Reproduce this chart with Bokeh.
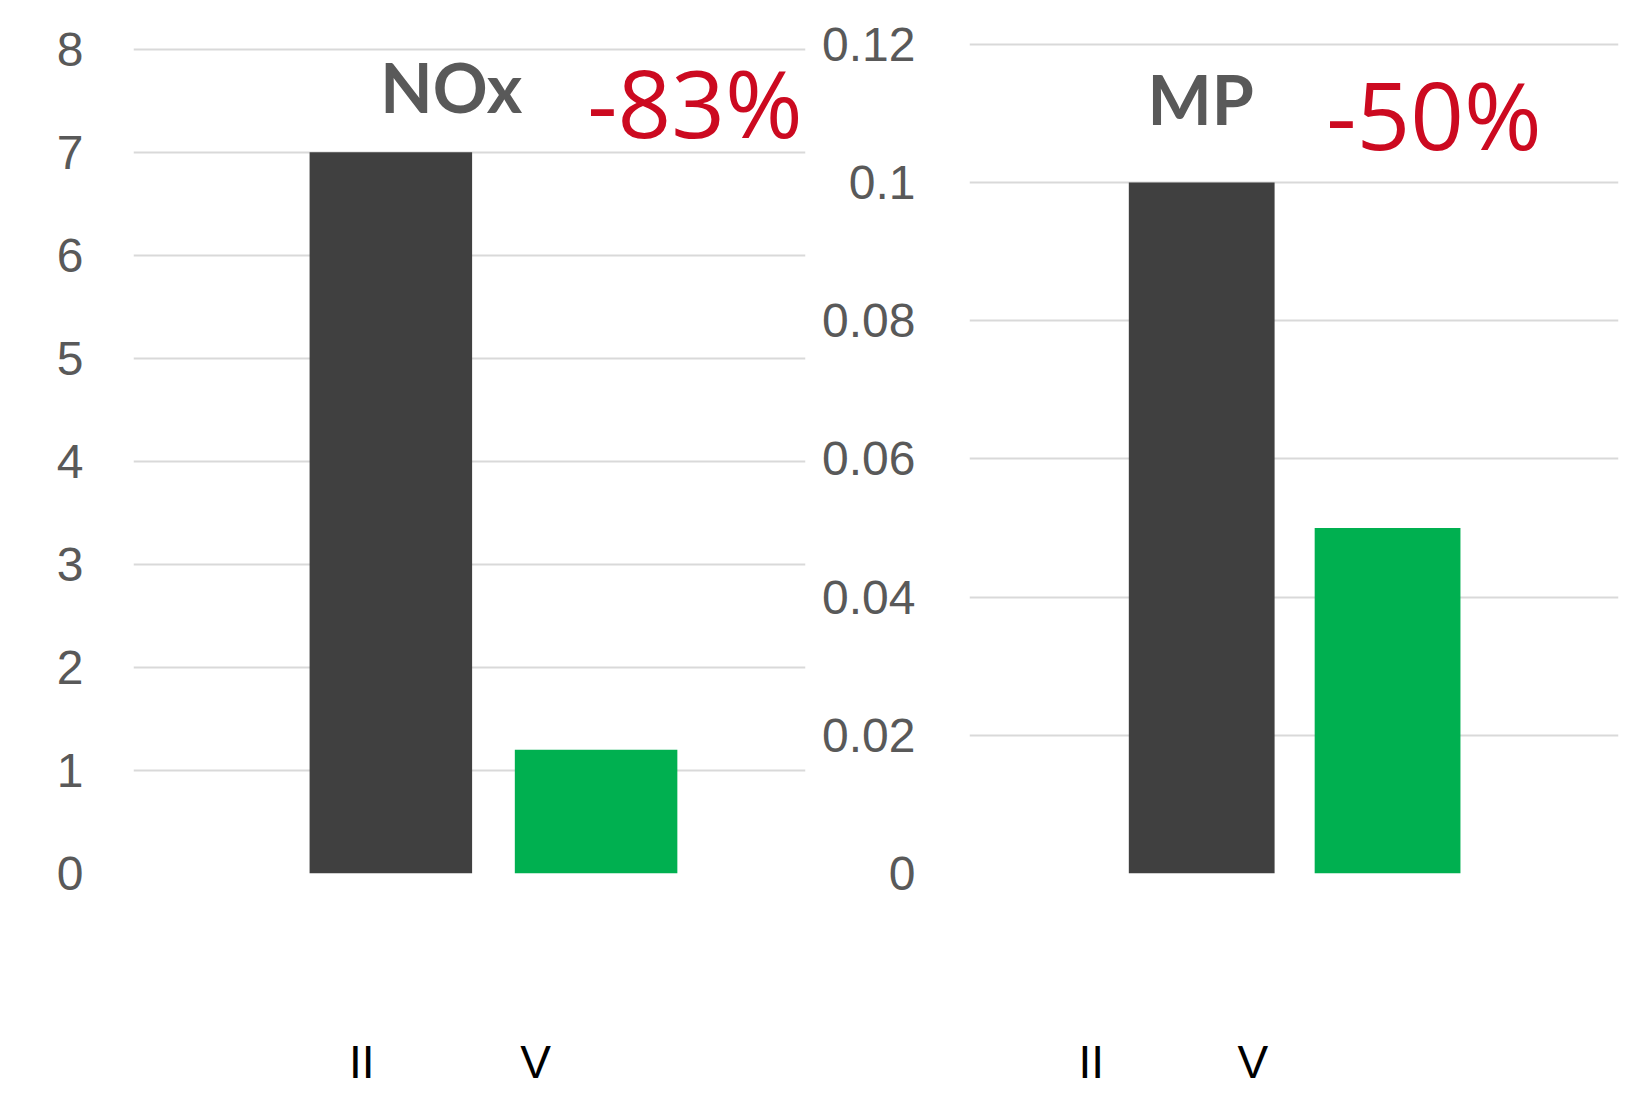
from bokeh.plotting import figure
from bokeh.models import Range1d, FixedTicker, Label
from bokeh.layouts import row
from bokeh.embed import file_html
from bokeh.resources import INLINE

# ---- data ----
categories = ["II", "V"]
nox_values = [7.0, 1.2]
mp_values = [0.10, 0.05]
bar_colors = ["#404040", "#00B050"]
nox_title = "NOx"
mp_title = "MP"
nox_change = "-83%"
mp_change = "-50%"
nox_ticks = [0, 1, 2, 3, 4, 5, 6, 7, 8]
mp_ticks = [0, 0.02, 0.04, 0.06, 0.08, 0.1, 0.12]

GRAY = "#595959"
RED = "#CC0A20"
TICK_FONT = "Liberation Sans"
HEIGHT = 1094


def fmt(t):
    return f"{t:g}"


def make_panel(values, ticks, y_end, x_start, x_end, width, min_left, min_right,
               min_top, min_bottom, y_standoff, bar_w, label_pos, title, change,
               title_pos, change_pos):
    p = figure(width=width, height=HEIGHT, output_backend="svg", toolbar_location=None,
               x_range=Range1d(x_start, x_end), y_range=Range1d(0, y_end),
               min_border_left=min_left, min_border_right=min_right,
               min_border_top=min_top, min_border_bottom=min_bottom)
    p.outline_line_color = None
    p.background_fill_color = "white"
    p.border_fill_color = "white"
    xs = list(range(len(values)))
    p.vbar(x=xs, top=values, width=bar_w, bottom=0, fill_color=bar_colors,
           line_color=None)
    # y axis
    p.yaxis.ticker = FixedTicker(ticks=ticks)
    p.yaxis.major_label_overrides = {t: fmt(t) for t in ticks}
    p.yaxis.axis_line_color = None
    p.yaxis.major_tick_line_color = None
    p.yaxis.minor_tick_line_color = None
    p.yaxis.major_tick_out = 0
    p.yaxis.major_tick_in = 0
    p.yaxis.major_label_standoff = y_standoff
    p.yaxis.major_label_text_font = TICK_FONT
    p.yaxis.major_label_text_font_size = "48px"
    p.yaxis.major_label_text_color = GRAY
    p.ygrid.ticker = FixedTicker(ticks=ticks)
    p.ygrid.grid_line_color = "#D9D9D9"
    p.ygrid.grid_line_width = 2
    p.xgrid.grid_line_color = None
    # x axis (category labels)
    p.xaxis.ticker = FixedTicker(ticks=label_pos)
    p.xaxis.major_label_overrides = {lp: c for lp, c in zip(label_pos, categories)}
    p.xaxis.axis_line_color = None
    p.xaxis.major_tick_line_color = None
    p.xaxis.minor_tick_line_color = None
    p.xaxis.major_tick_out = 0
    p.xaxis.major_tick_in = 0
    p.xaxis.major_label_standoff = 162
    p.xaxis.major_label_text_font = TICK_FONT
    p.xaxis.major_label_text_font_size = "46px"
    p.xaxis.major_label_text_color = "#000000"
    # titles
    p.add_layout(Label(x=title_pos[0], y=title_pos[1], text=title,
                       text_font="Lato", text_font_style="bold",
                       text_font_size="68px", text_color=GRAY,
                       text_align="center", text_baseline="alphabetic"))
    p.add_layout(Label(x=change_pos[0], y=change_pos[1], text=change,
                       text_font="Open Sans", text_font_style="normal",
                       text_font_size="94px", text_color=RED,
                       text_align="center", text_baseline="alphabetic"))
    return p


# Reference geometry measured in the picture (scaled 0.96 of layout px)
S = 0.96

# left panel
l_frame_l, l_frame_r = 128 / S, 773 / S
l_bar0, l_bar1 = 375 / S, 572 / S
L_UNIT = l_bar1 - l_bar0
l_top, l_bot = 47 / S, 842 / S
L_YU = (l_bot - l_top) / 8
l_min_top = 20
left = make_panel(
    nox_values, nox_ticks, 8 + (l_top - l_min_top) / L_YU,
    (l_frame_l - l_bar0) / L_UNIT, (l_frame_r - l_bar0) / L_UNIT,
    812, round(l_frame_l), 812 - round(l_frame_r), l_min_top, HEIGHT - round(l_bot),
    50, (156 / S) / L_UNIT,
    [(347 / S - l_bar0) / L_UNIT, (514 / S - l_bar0) / L_UNIT],
    nox_title, nox_change,
    ((433 / S - l_bar0) / L_UNIT, (l_bot - 83 / S) / L_YU),
    ((667 / S - l_bar0) / L_UNIT, (l_bot - 98 / S) / L_YU),
)

# right panel
r_origin = 812
r_frame_l, r_frame_r = 930 / S, 1618
r_bar0, r_bar1 = 1153 / S, 1331.5 / S
R_UNIT = r_bar1 - r_bar0
r_top, r_bot = 42 / S, 838 / S
R_YU = (r_bot - r_top) / 0.12
r_min_top = 20
r_width = 808
right = make_panel(
    mp_values, mp_ticks, 0.12 + (r_top - r_min_top) / R_YU,
    (r_frame_l - r_bar0) / R_UNIT, (r_frame_r - r_bar0) / R_UNIT,
    r_width, round(r_frame_l - r_origin), r_width - round(r_frame_r - r_origin),
    r_min_top, HEIGHT - round(r_bot),
    54, (140 / S) / R_UNIT,
    [(1047 / S - r_bar0) / R_UNIT, (1202 / S - r_bar0) / R_UNIT],
    mp_title, mp_change,
    ((1152 / S - r_bar0) / R_UNIT, (r_bot - 94 / S) / R_YU),
    ((1376 / S - r_bar0) / R_UNIT, (r_bot - 109 / S) / R_YU),
)

layout = row(left, right)
open("out.html", "w").write(file_html(layout, INLINE))
